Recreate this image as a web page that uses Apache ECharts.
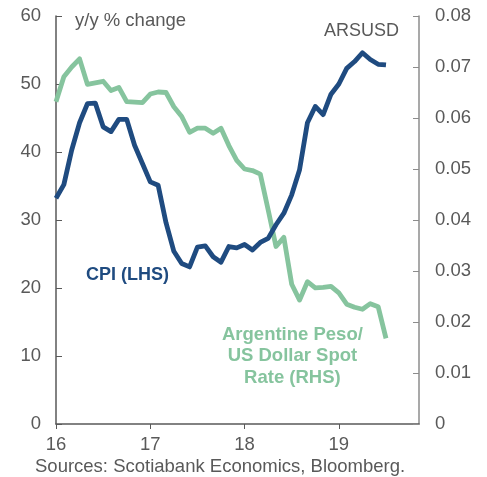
<!DOCTYPE html>
<html>
<head>
<meta charset="utf-8">
<script src="https://cdn.jsdelivr.net/npm/echarts@6/dist/echarts.min.js"></script>
<style>
  html, body { margin: 0; padding: 0; background: #fff; }
  #chart { width: 487px; height: 477px; }
</style>
</head>
<body>
<div id="chart"></div>
<script>
// monthly, Jan 2016 .. Jul 2019
const startYear = 16;
const xTicks = [16, 17, 18, 19];
const cpi = [
  33.2, 35.2, 40.3, 44.3, 47.1, 47.2, 43.7, 43.0, 44.8, 44.8, 41.0, 38.3,
  35.6, 35.1, 29.6, 25.4, 23.6, 23.1, 26.0, 26.2, 24.6, 23.8, 26.1, 25.9,
  26.4, 25.6, 26.7, 27.3, 29.3, 31.0, 33.7, 37.4, 44.3, 46.7, 45.5, 48.5,
  50.0, 52.3, 53.3, 54.6, 53.6, 52.9, 52.8
];
const arsusd = [
  0.0632, 0.0681, 0.0700, 0.0716, 0.0666, 0.0669, 0.0672, 0.0654, 0.0660, 0.0632, 0.0631, 0.0630,
  0.0647, 0.0651, 0.0650, 0.0622, 0.0603, 0.0572, 0.0580, 0.0580, 0.0570, 0.0580, 0.0546, 0.0517,
  0.0500, 0.0497, 0.0490, 0.0420, 0.0348, 0.0366, 0.0274, 0.0243, 0.0279, 0.0267, 0.0268, 0.0270,
  0.0257, 0.0235, 0.0229, 0.0225, 0.0236, 0.0230, 0.0168
];

const toPoints = (arr) => arr.map((v, i) => [startYear + i / 12, v]);
const grey = "#595959";
const font = "Liberation Sans, Arial, sans-serif";

const chart = echarts.init(document.getElementById("chart"));
chart.setOption({
  animation: false,
  textStyle: { fontFamily: font },
  grid: { left: 56, right: 68, top: 16, bottom: 53 },
  xAxis: {
    type: "value",
    min: 16,
    max: 19.85,
    interval: 1,
    splitLine: { show: false },
    axisLine: { lineStyle: { color: grey, width: 1.5 } },
    axisTick: { show: true, inside: false, length: 5, lineStyle: { color: grey } },
    axisLabel: {
      color: grey, fontSize: 18.5, margin: 11,
      showMaxLabel: false,
      formatter: (v) => (xTicks.indexOf(v) >= 0 ? String(v) : "")
    }
  },
  yAxis: [
    {
      type: "value", min: 0, max: 60, interval: 10,
      splitLine: { show: false },
      axisLine: { show: true, lineStyle: { color: grey, width: 1.5 } },
      axisTick: { show: true, inside: true, length: 6, lineStyle: { color: grey } },
      axisLabel: { color: grey, fontSize: 18.5, margin: 15 }
    },
    {
      type: "value", min: 0, max: 0.08, interval: 0.01, position: "right",
      splitLine: { show: false },
      axisLine: { show: true, lineStyle: { color: "#8c8c8c", width: 1.5 } },
      axisTick: { show: true, inside: true, length: 6, lineStyle: { color: "#8c8c8c" } },
      axisLabel: {
        color: grey, fontSize: 18.5, margin: 16,
        formatter: (v) => (v === 0 ? "0" : v.toFixed(2))
      }
    }
  ],
  series: [
    {
      name: "ARSUSD", type: "line", yAxisIndex: 1, symbol: "none",
      data: toPoints(arsusd),
      lineStyle: { color: "#86c49e", width: 4.8, join: "round" }
    },
    {
      name: "CPI", type: "line", yAxisIndex: 0, symbol: "none",
      data: toPoints(cpi),
      lineStyle: { color: "#1f4b80", width: 4.8, join: "round" }
    }
  ],
  graphic: [
    { type: "text", left: 75, top: 11, style: { text: "y/y % change", fill: grey, font: "18.5px " + font } },
    { type: "text", right: 88, top: 22, style: { text: "ARSUSD", fill: grey, font: "18px " + font } },
    { type: "text", left: 86, top: 266, style: { text: "CPI (LHS)", fill: "#1f4b80", font: "bold 18px " + font } },
    {
      type: "text", left: 222, top: 324,
      style: {
        text: "Argentine Peso/\nUS Dollar Spot\nRate (RHS)", fill: "#86c49e",
        font: "bold 18.5px " + font, textAlign: "center", lineHeight: 21.5, x: 72
      }
    },
    { type: "text", left: 35, top: 457, style: { text: "Sources: Scotiabank Economics, Bloomberg.", fill: grey, font: "18.5px " + font } }
  ]
});
</script>
</body>
</html>
